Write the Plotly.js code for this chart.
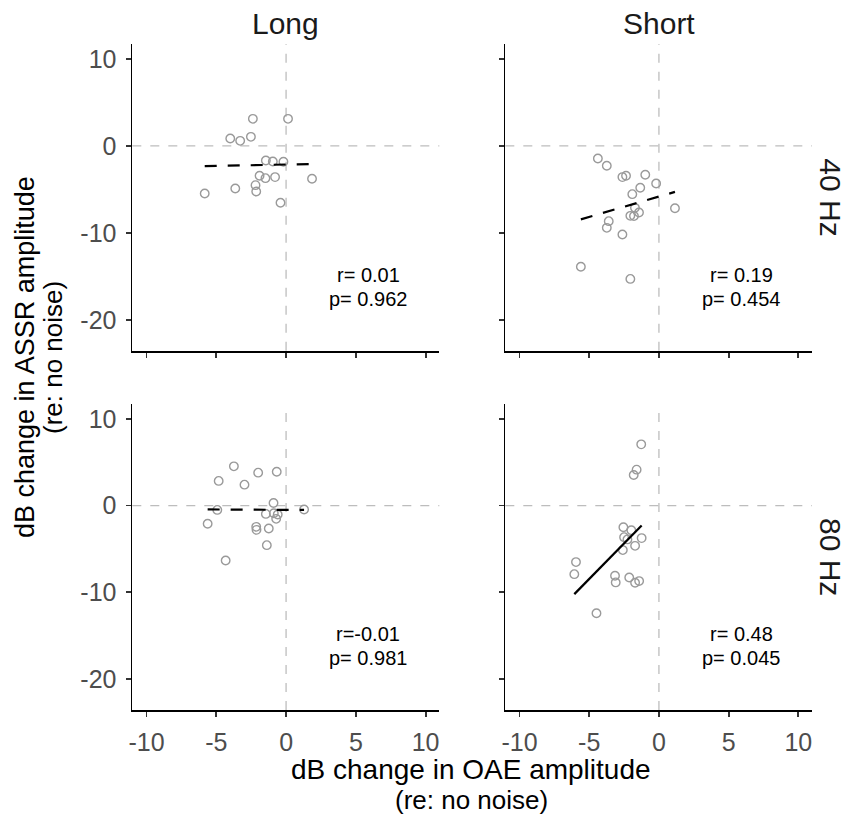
<!DOCTYPE html>
<html>
<head>
<meta charset="utf-8">
<script src="https://cdn.plot.ly/plotly-3.0.1.min.js"></script>
<style>html,body{margin:0;padding:0;background:#fff;}#chart{width:846px;height:816px;}</style>
</head>
<body>
<div id="chart"></div>
<script>
// ---- data ----
var longX40  = [-2.38, 0.14, -4.0, -3.29, -2.52, -1.45, -0.95, -0.19, -1.9, -1.48, -0.79, 1.86, -5.83, -3.64, -2.19, -2.14, -0.4];
var longY40  = [3.1, 3.1, 0.84, 0.57, 1.03, -1.69, -1.8, -1.84, -3.45, -3.72, -3.6, -3.79, -5.48, -4.9, -4.52, -5.25, -6.55];
var shortX40 = [-4.38, -3.74, -2.62, -2.36, -0.98, -0.2, -1.34, -1.91, 1.15, -1.72, -1.43, -2.05, -1.79, -3.6, -3.74, -2.62, -5.6, -2.05];
var shortY40 = [-1.46, -2.3, -3.6, -3.45, -3.33, -4.33, -4.83, -5.56, -7.17, -7.13, -7.66, -8.05, -8.08, -8.66, -9.43, -10.2, -13.9, -15.3];
var longX80  = [-3.74, -4.83, -2.0, -0.67, -2.98, -0.9, -4.93, 1.29, -1.45, -0.88, -0.6, -0.71, -5.62, -2.14, -2.12, -1.24, -1.38, -4.33];
var longY80  = [4.52, 2.84, 3.79, 3.9, 2.41, 0.3, -0.5, -0.46, -0.96, -0.88, -1.03, -1.53, -2.1, -2.45, -2.8, -2.64, -4.56, -6.32];
var shortX80 = [-1.27, -1.6, -1.81, -2.55, -1.98, -2.5, -2.26, -1.24, -1.71, -2.59, -5.95, -6.07, -3.15, -3.1, -2.13, -1.71, -1.42, -4.48];
var shortY80 = [7.05, 4.14, 3.52, -2.49, -2.84, -3.64, -3.9, -3.75, -4.64, -5.13, -6.51, -7.9, -8.08, -8.85, -8.28, -8.89, -8.7, -12.4];

// fitted regression lines (end points)
var fitLong40X  = [-5.83, 1.86],  fitLong40Y  = [-2.34, -2.09];
var fitShort40X = [-5.6, 1.15],   fitShort40Y = [-8.45, -5.3];
var fitLong80X  = [-5.62, 1.29],  fitLong80Y  = [-0.45, -0.5];
var fitShort80X = [-6.07, -1.24], fitShort80Y = [-10.2, -2.3];

var corrR = ["r= 0.01", "r= 0.19", "r=-0.01", "r= 0.48"];
var corrP = ["p= 0.962", "p= 0.454", "p= 0.981", "p= 0.045"];
var significant = [false, false, false, true];

var colLabels = ["Long", "Short"];
var rowLabels = ["40 Hz", "80 Hz"];
var xTicks = [-10, -5, 0, 5, 10];
var yTicks = [-20, -10, 0, 10];

// ---- build ----
var FONT = "Liberation Sans, Arial, Helvetica, sans-serif";
var panels = [
  {x: longX40,  y: longY40,  fx: fitLong40X,  fy: fitLong40Y,  xa: "x",  ya: "y"},
  {x: shortX40, y: shortY40, fx: fitShort40X, fy: fitShort40Y, xa: "x2", ya: "y2"},
  {x: longX80,  y: longY80,  fx: fitLong80X,  fy: fitLong80Y,  xa: "x3", ya: "y3"},
  {x: shortX80, y: shortY80, fx: fitShort80X, fy: fitShort80Y, xa: "x4", ya: "y4"}
];

var traces = [];
panels.forEach(function (p) {
  traces.push({
    type: "scatter", mode: "markers", x: p.x, y: p.y, xaxis: p.xa, yaxis: p.ya,
    marker: {symbol: "circle-open", size: 8.5, color: "#9a9a9a", line: {width: 1.4, color: "#9a9a9a"}},
    hoverinfo: "skip", showlegend: false
  });
});
panels.forEach(function (p, i) {
  traces.push({
    type: "scatter", mode: "lines", x: p.fx, y: p.fy, xaxis: p.xa, yaxis: p.ya,
    line: {color: "#000", width: 2.2, dash: significant[i] ? "solid" : "12px,11px"},
    hoverinfo: "skip", showlegend: false
  });
});

var xDomL = [132.3 / 846, 439.3 / 846], xDomR = [505.3 / 846, 812 / 846];
var yDomT = [1 - 350.7 / 816, 1 - 44 / 816], yDomB = [1 - 710 / 816, 1 - 404 / 816];
var xRange = [-11.02, 10.98], yRange = [-23.55, 11.7];
var TICKSIZE = 25;

function xAxis(dom, anchor, labels) {
  return {
    domain: dom, anchor: anchor, range: xRange, tickvals: xTicks, ticktext: xTicks.map(String),
    showticklabels: labels, ticks: "outside", ticklen: 5, tickwidth: 1.8, tickcolor: "#333",
    showline: true, linecolor: "#000", linewidth: 1.8, showgrid: false, zeroline: false,
    tickfont: {family: FONT, size: TICKSIZE, color: "#4d4d4d"}, ticklabelstandoff: 4, fixedrange: true
  };
}
function yAxis(dom, anchor, labels) {
  return {
    domain: dom, anchor: anchor, range: yRange, tickvals: yTicks, ticktext: yTicks.map(String),
    showticklabels: labels, ticks: "outside", ticklen: 5, tickwidth: 1.8, tickcolor: "#333",
    showline: true, linecolor: "#000", linewidth: 1.8, showgrid: false, zeroline: false,
    tickfont: {family: FONT, size: TICKSIZE, color: "#4d4d4d"}, ticklabelstandoff: 4, fixedrange: true
  };
}

var shapes = [];
panels.forEach(function (p) {
  var refStyle = {color: "#bdbdbd", width: 1.3, dash: "9px,9px"};
  shapes.push({type: "line", layer: "below", xref: p.xa, yref: p.ya + " domain", x0: 0, x1: 0, y0: 0, y1: 1, line: refStyle});
  shapes.push({type: "line", layer: "below", xref: p.xa + " domain", yref: p.ya, x0: 0, x1: 1, y0: 0, y1: 0, line: refStyle});
});

var annotations = [];
panels.forEach(function (p, i) {
  annotations.push({xref: p.xa, yref: p.ya, x: 5.9, y: -14.8, text: corrR[i], showarrow: false,
    font: {family: FONT, size: 20, color: "#000"}, xanchor: "center", yanchor: "middle"});
  annotations.push({xref: p.xa, yref: p.ya, x: 5.9, y: -17.55, text: corrP[i], showarrow: false,
    font: {family: FONT, size: 20, color: "#000"}, xanchor: "center", yanchor: "middle"});
});
// strip labels
var STRIP = 30;
annotations.push({xref: "paper", yref: "paper", x: (xDomL[0] + xDomL[1]) / 2, y: 1 - 23 / 816, text: colLabels[0],
  showarrow: false, font: {family: FONT, size: STRIP, color: "#1a1a1a"}, xanchor: "center", yanchor: "middle"});
annotations.push({xref: "paper", yref: "paper", x: (xDomR[0] + xDomR[1]) / 2, y: 1 - 23 / 816, text: colLabels[1],
  showarrow: false, font: {family: FONT, size: STRIP, color: "#1a1a1a"}, xanchor: "center", yanchor: "middle"});
annotations.push({xref: "paper", yref: "paper", x: 831 / 846, y: (yDomT[0] + yDomT[1]) / 2, text: rowLabels[0], textangle: 90,
  showarrow: false, font: {family: FONT, size: STRIP, color: "#1a1a1a"}, xanchor: "center", yanchor: "middle"});
annotations.push({xref: "paper", yref: "paper", x: 831 / 846, y: (yDomB[0] + yDomB[1]) / 2, text: rowLabels[1], textangle: 90,
  showarrow: false, font: {family: FONT, size: STRIP, color: "#1a1a1a"}, xanchor: "center", yanchor: "middle"});
// axis titles
annotations.push({xref: "paper", yref: "paper", x: 471 / 846, y: 1 - 769 / 816, text: "dB change in OAE amplitude",
  showarrow: false, borderpad: 0, font: {family: FONT, size: 28, color: "#000"}, xanchor: "center", yanchor: "middle"});
annotations.push({xref: "paper", yref: "paper", x: 471 / 846, y: 1 - 800 / 816, text: "(re: no noise)",
  showarrow: false, borderpad: 0, font: {family: FONT, size: 26, color: "#000"}, xanchor: "center", yanchor: "middle"});
annotations.push({xref: "paper", yref: "paper", x: 25 / 846, y: 1 - 357 / 816, text: "dB change in ASSR amplitude", textangle: -90,
  showarrow: false, borderpad: 0, font: {family: FONT, size: 27, color: "#000"}, xanchor: "center", yanchor: "middle"});
annotations.push({xref: "paper", yref: "paper", x: 53 / 846, y: 1 - 357 / 816, text: "(re: no noise)", textangle: -90,
  showarrow: false, borderpad: 0, font: {family: FONT, size: 26, color: "#000"}, xanchor: "center", yanchor: "middle"});

var layout = {
  width: 846, height: 816, margin: {l: 0, r: 0, t: 0, b: 0},
  paper_bgcolor: "#fff", plot_bgcolor: "rgba(0,0,0,0)", showlegend: false,
  xaxis: xAxis(xDomL, "y", false),
  yaxis: yAxis(yDomT, "x", true),
  xaxis2: xAxis(xDomR, "y2", false),
  yaxis2: yAxis(yDomT, "x2", false),
  xaxis3: xAxis(xDomL, "y3", true),
  yaxis3: yAxis(yDomB, "x3", true),
  xaxis4: xAxis(xDomR, "y4", true),
  yaxis4: yAxis(yDomB, "x4", false),
  shapes: shapes, annotations: annotations
};

Plotly.newPlot("chart", traces, layout, {displayModeBar: false, staticPlot: true});
</script>
</body>
</html>
